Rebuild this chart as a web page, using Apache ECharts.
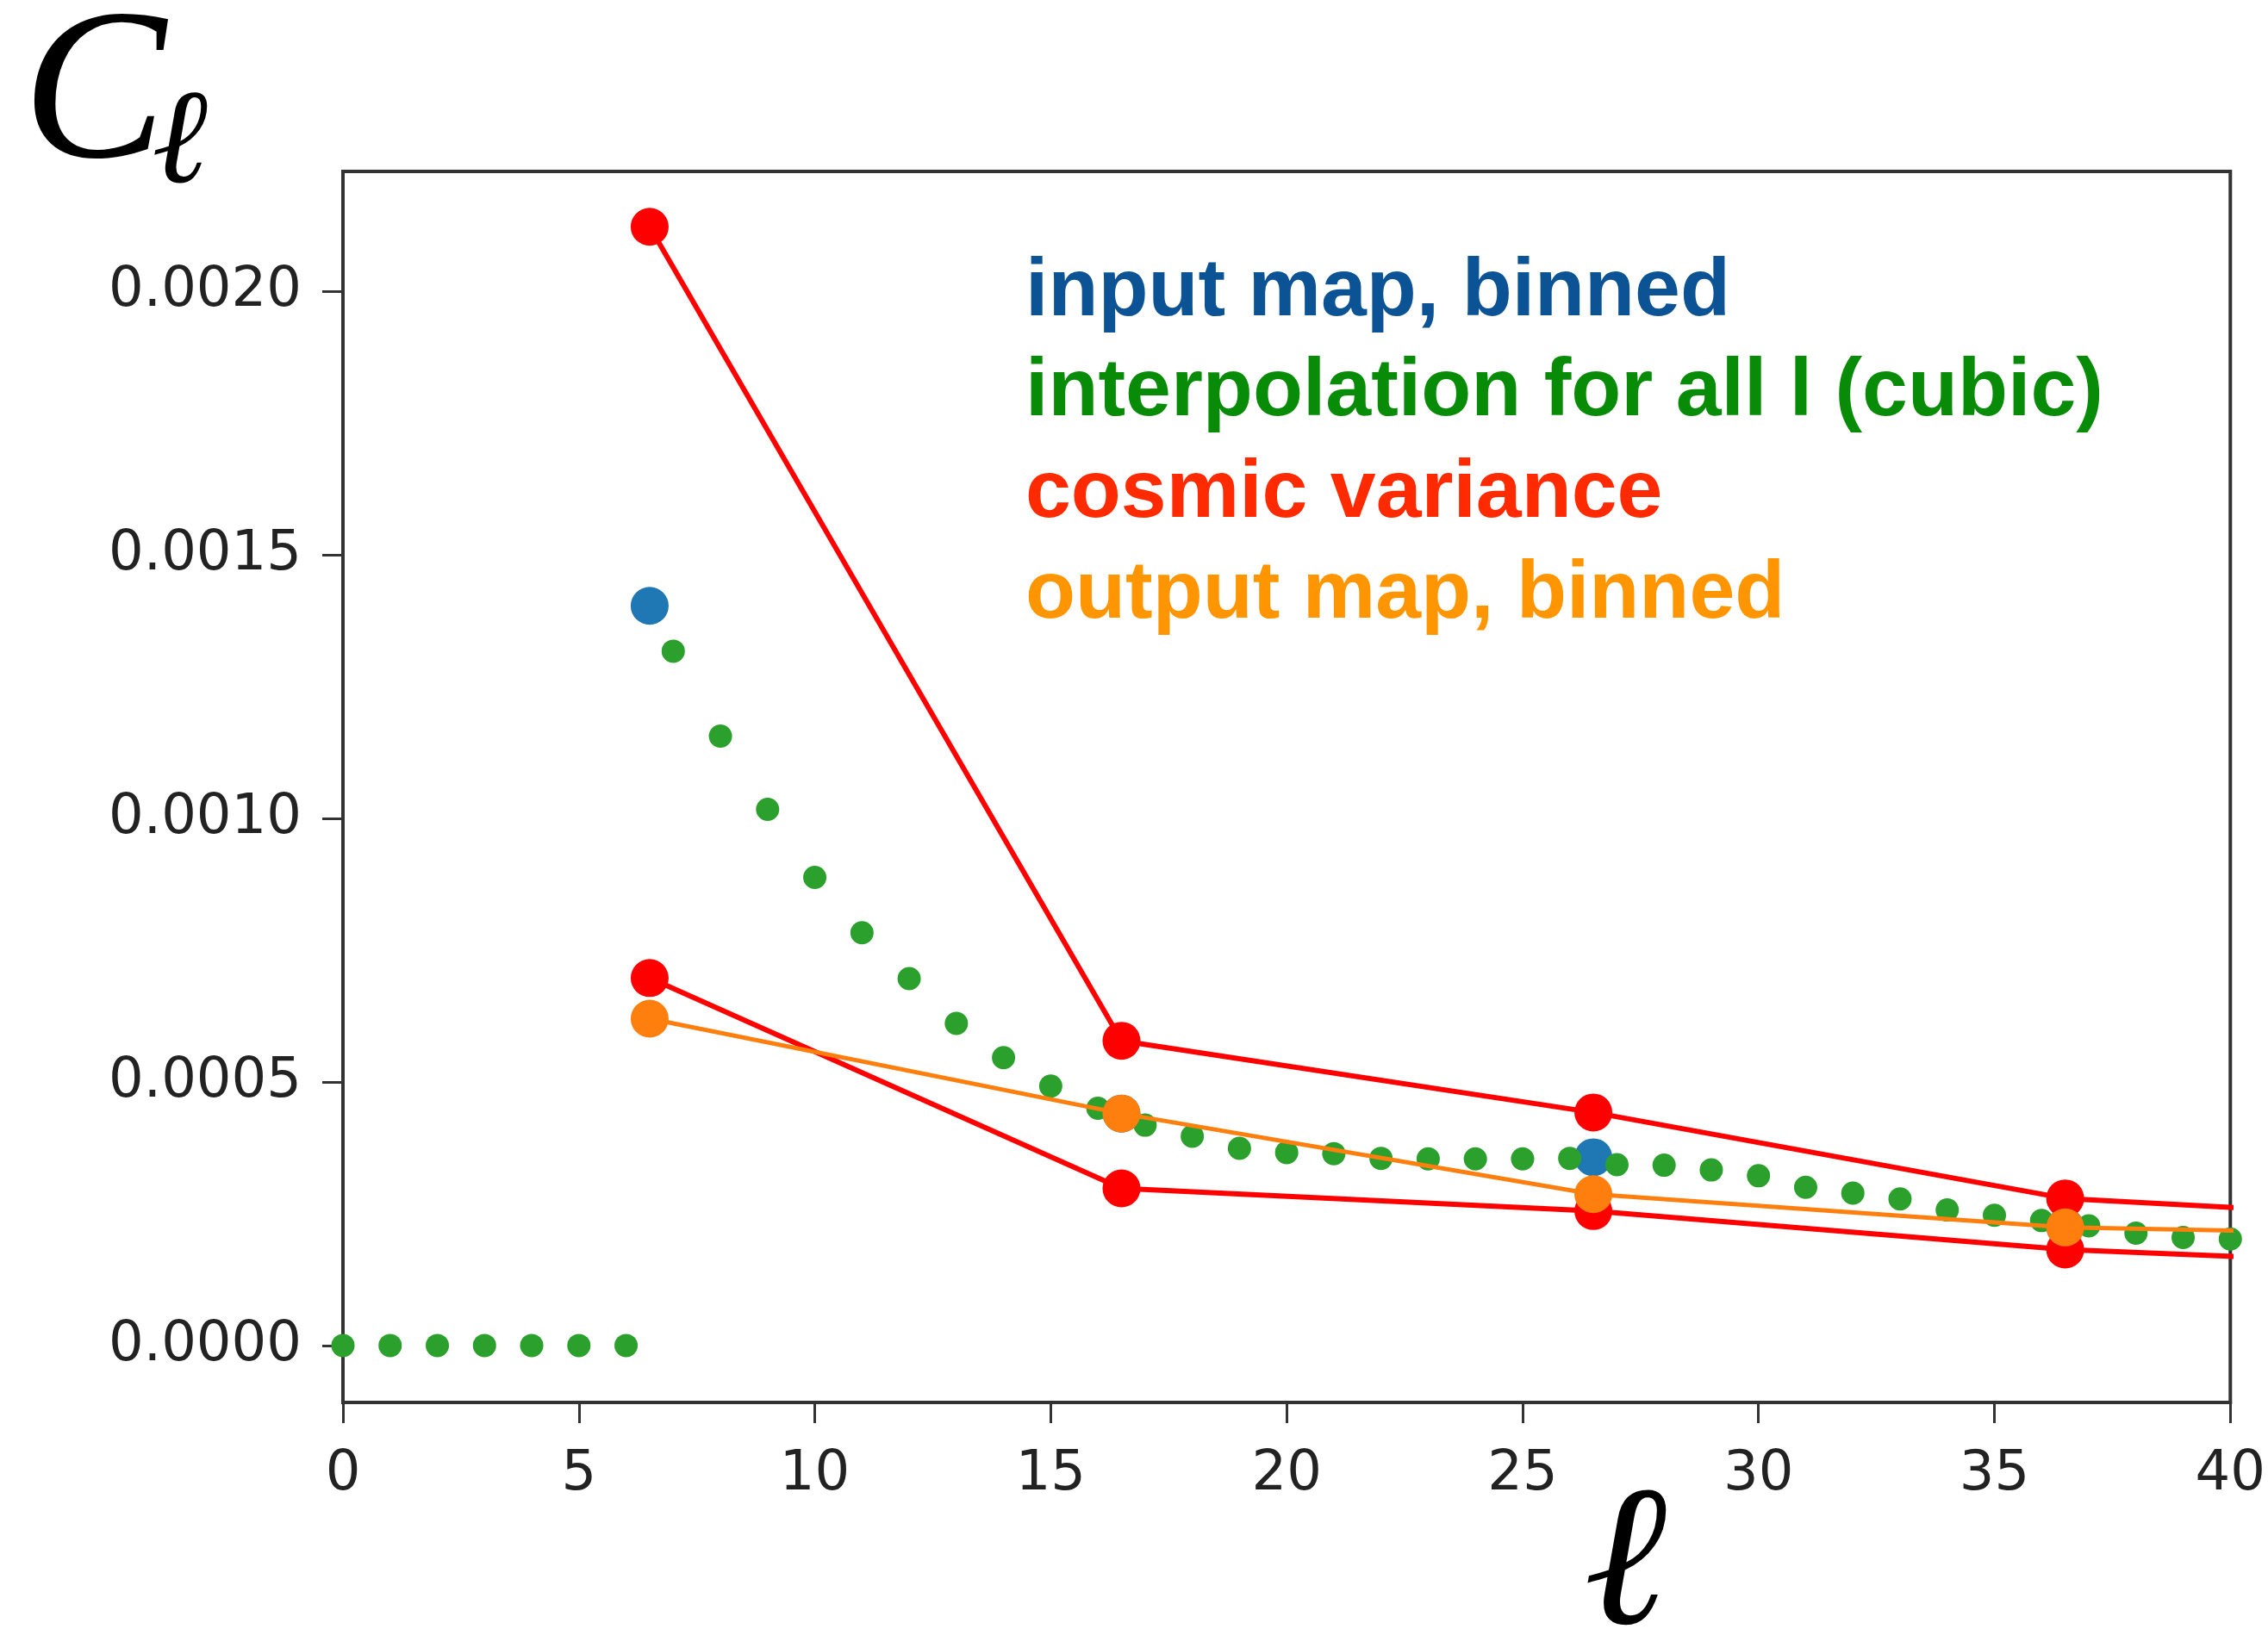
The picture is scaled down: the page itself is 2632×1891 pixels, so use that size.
<!DOCTYPE html>
<html><head><meta charset="utf-8">
<script src="https://cdn.jsdelivr.net/npm/echarts@6/dist/echarts.min.js"></script>
<style>html,body{margin:0;padding:0;background:#fff}#chart{width:2632px;height:1891px}</style>
</head><body><div id="chart"></div>
<script>
// multipole values l = 0..40 for the cubic interpolation
const ellValues = [0,1,2,3,4,5,6,7,8,9,10,11,12,13,14,15,16,17,18,19,20,21,22,23,24,25,26,27,28,29,30,31,32,33,34,35,36,37,38,39,40];
const interpCubic = [0,0,0,0,0,0,0,
  0.001317,0.001156,0.001017,0.000888,0.000783,0.000696,0.000611,0.000546,0.000492,0.000450,
  0.000418,0.000397,0.000374,0.000366,0.000364,0.000355,0.000354,0.000354,0.000354,0.000355,
  0.000343,0.000342,0.000333,0.000322,0.000300,0.000289,0.000278,0.000257,0.000247,0.000237,
  0.000227,0.000213,0.000205,0.000202];
// bin centres
const binCenters = [6.5,16.5,26.5,36.5];
const binCentersExt = [6.5,16.5,26.5,36.5,46.5];
const inputBinned = [0.001403,0.000440,0.000357,0.000225];
const outputBinned = [0.000620,0.000440,0.000287,0.000224,0.000207];
const cosmicUpper = [0.002122,0.000578,0.000442,0.000279,0.000230];
const cosmicLower = [0.000697,0.000298,0.000255,0.000182,0.000145];
// axis ticks
const xTicks = [0,5,10,15,20,25,30,35,40];
const yTicks = [0,0.0005,0.0010,0.0015,0.0020];
const yTickLabels = ['0.0000','0.0005','0.0010','0.0015','0.0020'];
const legendLabels = ['input map, binned','interpolation for all l (cubic)','cosmic variance','output map, binned'];
const legendColors = ['#0b5394','#088c08','#ff2a00','#ff9500'];

function pairs(xs, ys){ return ys.map((y,i)=>[xs[i], y]); }

const chart = echarts.init(document.getElementById('chart'), null, {renderer:'canvas'});
const tickFont = {fontFamily:'"DejaVu Sans"', fontSize:64, color:'#222'};

const legendGraphics = legendLabels.map((t,i)=>({
  type:'text', x:1190, y:[292,408,526,643][i], z:100,
  style:{text:t, font:'bold 95px "Liberation Sans"', fill:legendColors[i], textAlign:'left', textVerticalAlign:'top', align:'left', verticalAlign:'top'}
}));

chart.setOption({
  animation:false,
  backgroundColor:'#fff',
  grid:{left:398, right:39, top:199, bottom:263, show:true, borderColor:'#333', borderWidth:4, backgroundColor:'transparent'},
  xAxis:{type:'value', min:xTicks[0], max:xTicks[xTicks.length-1], interval:5,
    axisLine:{show:true, onZero:false, lineStyle:{color:'#333', width:4}},
    axisTick:{show:true, inside:false, length:24, lineStyle:{color:'#333', width:3}},
    axisLabel:{...tickFont, margin:52, formatter:v=>String(v)},
    splitLine:{show:false}},
  yAxis:{type:'value', min:-0.000108, max:0.002227,
    axisLine:{show:true, onZero:false, lineStyle:{color:'#333', width:4}},
    axisTick:{show:true, inside:false, length:24, lineStyle:{color:'#333', width:3}, customValues:yTicks},
    axisLabel:{...tickFont, margin:48, customValues:yTicks, formatter:v=>{
      let best=0; yTicks.forEach((t,i)=>{ if(Math.abs(t-v)<Math.abs(yTicks[best]-v)) best=i; }); return yTickLabels[best]; }},
    splitLine:{show:false}},
  series:[
    {name:legendLabels[0], type:'scatter', data:pairs(binCenters,inputBinned), symbol:'circle', symbolSize:44, itemStyle:{color:'#1f77b4', opacity:1}, z:2},
    {name:legendLabels[1], type:'scatter', data:pairs(ellValues,interpCubic), symbol:'circle', symbolSize:27, itemStyle:{color:'#2ca02c', opacity:1}, z:3},
    {name:legendLabels[2], type:'line', data:pairs(binCentersExt,cosmicUpper), symbol:'circle', symbolSize:44, showAllSymbol:true, clip:true,
      lineStyle:{color:'#ff0000', width:6}, itemStyle:{color:'#ff0000', opacity:1}, z:4},
    {name:legendLabels[2]+' (lower)', type:'line', data:pairs(binCentersExt,cosmicLower), symbol:'circle', symbolSize:44, showAllSymbol:true, clip:true,
      lineStyle:{color:'#ff0000', width:6}, itemStyle:{color:'#ff0000', opacity:1}, z:4},
    {name:legendLabels[3], type:'line', data:pairs(binCentersExt,outputBinned), symbol:'circle', symbolSize:44, showAllSymbol:true, clip:true,
      lineStyle:{color:'#ff7f0e', width:5}, itemStyle:{color:'#ff7f0e', opacity:1}, z:5}
  ],
  graphic:[
    {type:'text', x:26, y:-9, style:{text:'C', font:'italic 250px "Liberation Serif"', fill:'#000', textAlign:'left', textVerticalAlign:'top', align:'left', verticalAlign:'top'}},
    {type:'text', x:176, y:92, style:{text:'ℓ', font:'italic 156px "DejaVu Serif"', fill:'#000', textAlign:'left', textVerticalAlign:'top', align:'left', verticalAlign:'top'}},
    {type:'text', x:1886, y:1708, style:{text:'ℓ', font:'italic 232px "DejaVu Serif"', fill:'#000', textAlign:'center', textVerticalAlign:'top', align:'center', verticalAlign:'top'}},
    ...legendGraphics
  ]
});
</script></body></html>
